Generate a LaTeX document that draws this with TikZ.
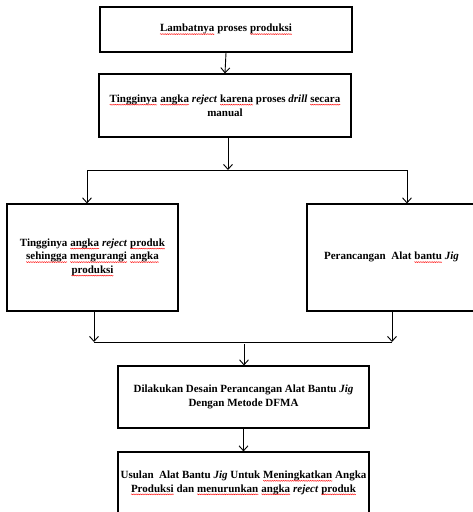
\documentclass[tikz,border=0pt]{standalone}
\usepackage{fontspec}
\setmainfont{Liberation Serif}
\usetikzlibrary{arrows.meta,decorations.pathmorphing}
\newcommand\sqw[1]{\tikz[baseline=(w.base)]{\node[inner sep=0pt, outer sep=0pt, draw=none, minimum width=0pt, minimum height=0pt] (w) {#1};
  \draw[red, line width=0.35pt, decorate, decoration={zigzag,amplitude=0.5pt,segment length=1.8pt}]
    ([yshift=-2.2pt]w.base west) -- ([yshift=-2.2pt]w.base east);}}
\begin{document}
\begin{tikzpicture}[x=1pt,y=-1pt,
  box/.style={draw, line width=1.1pt, inner sep=0pt, align=center,
    font=\fontsize{11}{13.5}\selectfont\bfseries},
  conn/.style={line width=0.9pt},
  arr/.style={conn,-{Straight Barb[length=5pt,width=9pt,line width=0.9pt]}}]
\useasboundingbox (0,0) rectangle (473,512);
\node[box, minimum width=252pt, minimum height=45pt] (b1) at (226,29.5)
  {\sqw{Lambatnya} proses \sqw{produksi}};
\node[box, minimum width=252pt, minimum height=63pt] (b2) at (225,105.5)
  {\sqw{Tingginya} \sqw{angka} \textit{reject} \sqw{karena} proses \textit{drill} \sqw{secara}\\ manual};
\node[box, minimum width=171pt, minimum height=107pt] (lf) at (92.5,257.5)
  {Tingginya \sqw{angka} \textit{reject} \sqw{produk}\\ \sqw{sehingga} \sqw{mengurangi} \sqw{angka}\\ \sqw{produksi}};
\node[box, minimum width=169pt, minimum height=107pt] (rt) at (391.5,257.5)
  {Perancangan\ \ Alat \sqw{bantu} \textit{Jig}};
\node[box, minimum width=251pt, minimum height=62pt] (b5) at (243.5,397)
  {Dilakukan Desain Perancangan Alat Bantu \textit{Jig}\\ Dengan Metode DFMA};
\node[box, minimum width=251pt, minimum height=62pt] (b6) at (243.5,483)
  {Usulan\ \ Alat Bantu \textit{Jig} Untuk \sqw{Meningkatkan} Angka\\ \sqw{Produksi} dan \sqw{menurunkan} \sqw{angka} \textit{reject} \sqw{produk}};
\coordinate (j1) at (228,170);
\coordinate (jl) at (87,170);
\coordinate (jr) at (407,170);
\coordinate (kl) at (94,342);
\coordinate (kr) at (392,342);
\coordinate (k) at (244,344);
\draw[arr] (b1.south) -- (b2.north);
\draw[arr] (b2.south -| j1) -- (j1);
\draw[conn] (jl) -- (jr);
\draw[arr] (jl) -- (lf.north -| jl);
\draw[arr] (jr) -- (rt.north -| jr);
\draw[arr] (lf.south -| kl) -- (kl);
\draw[arr] (rt.south -| kr) -- (kr);
\draw[conn] (kl) -- (kr);
\draw[arr] (k) -- (b5.north -| k);
\draw[arr] (b5.south) -- (b6.north);
\end{tikzpicture}
\end{document}
